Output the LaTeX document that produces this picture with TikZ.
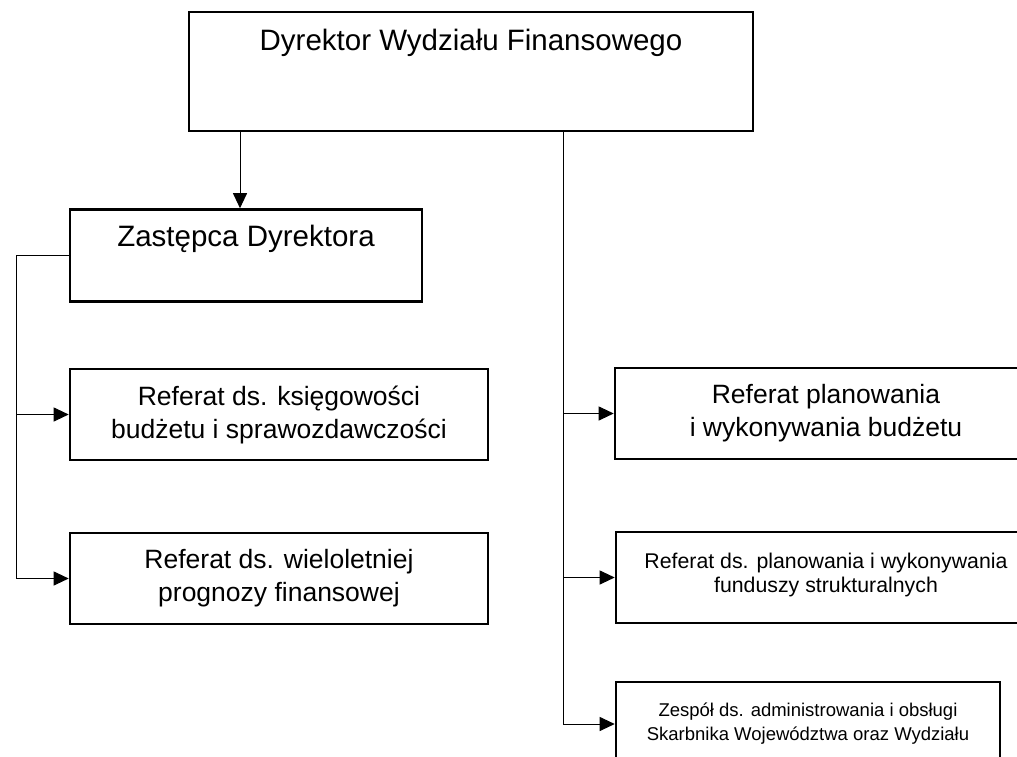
\documentclass[tikz,border=0pt]{standalone}
\usepackage{fontspec}
\setmainfont{Liberation Sans}
\usetikzlibrary{calc, arrows.meta}

\tikzset{
    box/.style={draw, line width=2.6pt, rectangle, inner sep=0pt, align=center},
    conn/.style={line width=1pt},
    arr/.style={conn, -{Triangle[length=15pt, width=14pt]}},
    big/.style={font=\fontsize{29.5}{35}\selectfont},
    mid/.style={font=\fontsize{26.5}{33}\selectfont},
    small/.style={align=center, font=\fontsize{18.5}{24}\selectfont},
    smallb/.style={align=center, font=\fontsize{21.3}{24}\selectfont}
}

\begin{document}
\begin{tikzpicture}[x=1pt, y=-1pt]
            \useasboundingbox (0,0) rectangle (1017,757);
            \clip (0,0) rectangle (1017,757);
            \node[box, minimum width=564, minimum height=119] (dyr) at (471,71.5) {};
            \node[big] (dyrt) at ([yshift=-32]dyr.north) {Dyrektor Wydziału Finansowego};
            \node[box, minimum width=352, minimum height=92] (zast) at (246,255.5) {};
            \node[big] (zastt) at ([yshift=-31]zast.north) {Zastępca Dyrektora};
            \node[box, mid, minimum width=418, minimum height=91] (ksieg) at (279,414.5) {Referat ds. księgowości\\budżetu i sprawozdawczości};
            \node[box, mid, minimum width=418, minimum height=91] (wielo) at (279,578.5) {Referat ds. wieloletniej\\prognozy finansowej};
            \node[box, mid, minimum width=422, minimum height=91] (plan) at (826,413.5) {Referat planowania\\i wykonywania budżetu};
            \node[box, minimum width=420, minimum height=91] (fund) at (826,577.5) {};
            \node[smallb] (fundt) at ([yshift=-44]fund.north) {Referat ds. planowania i wykonywania\\funduszy strukturalnych};
            \node[box, small, minimum width=384, minimum height=84] (zesp) at (808,724) {Zespół ds. administrowania i obsługi\\Skarbnika Województwa oraz Wydziału};

            \coordinate (lt) at (16,0);
            \coordinate (rt) at (563,0);
            \draw[arr] ([xshift=-6]zast.north |- dyr.south) -- ([xshift=-6]zast.north);
            \draw[conn] (zast.west) -- (zast.west -| lt) -- (wielo.west -| lt);
            \foreach \n in {ksieg,wielo}{
                \draw[arr] (\n.west -| lt) -- (\n.west);
            }
            \draw[conn] (dyr.south -| rt) -- (zesp.west -| rt);
            \foreach \n in {plan,fund,zesp}{
                \draw[arr] (\n.west -| rt) -- (\n.west);
            }
        \end{tikzpicture}
\end{document}
